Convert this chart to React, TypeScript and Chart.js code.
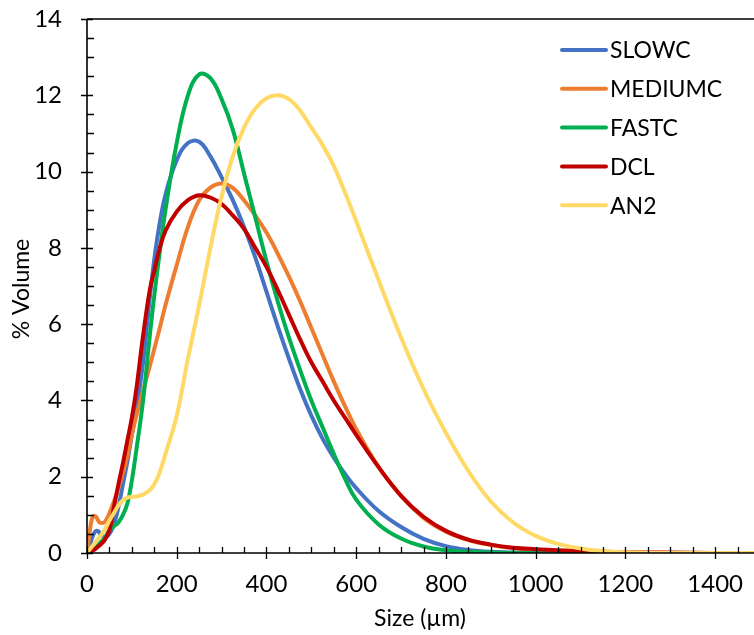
import { useEffect, useRef } from "react";
import { Chart, registerables } from "chart.js";
Chart.register(...registerables);

const sizes = [0, 5, 10, 15, 20, 25, 30, 40, 50, 60, 70, 80, 90, 100, 110, 125, 140, 150, 160, 175, 200, 225, 250, 275, 300, 325, 350, 375, 400, 425, 450, 475, 500, 525, 550, 575, 600, 650, 700, 750, 800, 850, 900, 950, 1000, 1050, 1100, 1150, 1200, 1300, 1400, 1500];

const slowc = [0, 0.15, 0.35, 0.5, 0.58, 0.57, 0.5, 0.42, 0.5, 0.75, 1.2, 1.8, 2.4, 3.1, 3.75, 5.0, 6.7, 7.7, 8.5, 9.4, 10.3, 10.75, 10.78, 10.4, 9.85, 9.25, 8.55, 7.75, 6.85, 5.95, 5.1, 4.3, 3.6, 3.0, 2.5, 2.07, 1.7, 1.1, 0.68, 0.37, 0.18, 0.08, 0.03, 0.01, 0, 0, 0, 0, 0, 0, 0, 0];
const mediumc = [0, 0.45, 0.85, 0.97, 0.95, 0.85, 0.79, 0.82, 1.05, 1.35, 1.7, 2.1, 2.55, 3.1, 3.6, 4.25, 4.9, 5.35, 5.8, 6.5, 7.55, 8.55, 9.25, 9.58, 9.69, 9.57, 9.25, 8.85, 8.4, 7.85, 7.25, 6.6, 5.9, 5.2, 4.5, 3.85, 3.25, 2.25, 1.5, 0.92, 0.56, 0.34, 0.21, 0.13, 0.08, 0.05, 0.03, 0.02, 0.01, 0, 0, 0];
const fastc = [0, 0.03, 0.07, 0.12, 0.16, 0.22, 0.28, 0.4, 0.6, 0.7, 0.8, 1.0, 1.3, 1.9, 2.7, 4.0, 5.7, 6.75, 7.7, 9.0, 10.75, 12.0, 12.55, 12.45, 11.9, 11.1, 9.95, 8.8, 7.65, 6.6, 5.65, 4.8, 4.0, 3.3, 2.6, 1.95, 1.4, 0.75, 0.38, 0.17, 0.07, 0.03, 0.01, 0, 0, 0, 0, 0, 0, 0, 0, 0];
const dcl = [0, 0.02, 0.05, 0.08, 0.12, 0.17, 0.22, 0.35, 0.6, 1.2, 1.8, 2.35, 2.95, 3.55, 4.3, 5.7, 6.9, 7.4, 7.9, 8.45, 8.95, 9.25, 9.38, 9.32, 9.15, 8.85, 8.5, 8.0, 7.5, 6.9, 6.25, 5.6, 5.0, 4.5, 4.0, 3.55, 3.1, 2.25, 1.5, 0.95, 0.58, 0.35, 0.22, 0.14, 0.1, 0.07, 0.05, 0.03, 0.02, 0.01, 0, 0];
const an2 = [0, 0.08, 0.15, 0.22, 0.3, 0.38, 0.45, 0.62, 0.85, 1.05, 1.25, 1.38, 1.45, 1.47, 1.48, 1.53, 1.65, 1.8, 2.05, 2.6, 3.6, 5.1, 6.5, 8.0, 9.35, 10.4, 11.15, 11.65, 11.92, 12.0, 11.9, 11.6, 11.15, 10.7, 10.15, 9.45, 8.7, 7.15, 5.65, 4.3, 3.15, 2.15, 1.35, 0.8, 0.45, 0.24, 0.12, 0.05, 0.02, 0, 0, 0];

const seriesNames = ["SLOWC", "MEDIUMC", "FASTC", "DCL", "AN2"];
const seriesValues = [slowc, mediumc, fastc, dcl, an2];
const seriesColors = ["#4472C4", "#ED7D31", "#00B050", "#C00000", "#FFD966"];

const xMax = 1500;
const xMajor = 200;
const xMinor = 50;
const xTickValues = [0, 200, 400, 600, 800, 1000, 1200, 1400];
const yMax = 14;
const yMajor = 2;
const yMinor = 0.5;
const yTickValues = [0, 2, 4, 6, 8, 10, 12, 14];

const xTitle = "Size (µm)";
const yTitle = "% Volume";

const FONT = "Lato, 'Open Sans', sans-serif";

export default function App() {
  const ref = useRef<HTMLCanvasElement | null>(null);

  useEffect(() => {
    if (!ref.current) return;
    const excelAxes = {
      id: "excelAxes",
      afterDraw(chart: any) {
        const ctx = chart.ctx;
        const xs = chart.scales.x;
        const ys = chart.scales.y;
        const { left, right, top, bottom } = chart.chartArea;
        ctx.save();
        ctx.strokeStyle = "#000";
        ctx.lineWidth = 1.6;
        ctx.beginPath();
        ctx.moveTo(left, top);
        ctx.lineTo(right, top);
        ctx.moveTo(left, top);
        ctx.lineTo(left, bottom);
        ctx.lineTo(right, bottom);
        ctx.stroke();
        ctx.lineWidth = 1.3;
        ctx.beginPath();
        for (let v = 0; v <= yMax + 1e-9; v += yMinor) {
          const py = Math.round(ys.getPixelForValue(v)) + 0.5;
          const isMajor = Math.abs(v / yMajor - Math.round(v / yMajor)) < 1e-6;
          if (isMajor) {
            ctx.moveTo(left - 6, py);
            ctx.lineTo(left + 6, py);
          } else {
            ctx.moveTo(left, py);
            ctx.lineTo(left + 7, py);
          }
        }
        for (let v = 0; v <= xMax + 1e-9; v += xMinor) {
          const px = Math.round(xs.getPixelForValue(v)) + 0.5;
          const isMajor = Math.abs(v / xMajor - Math.round(v / xMajor)) < 1e-6;
          if (isMajor) {
            ctx.moveTo(px, bottom - 6);
            ctx.lineTo(px, bottom + 6);
          } else {
            ctx.moveTo(px, bottom - 6);
            ctx.lineTo(px, bottom);
          }
        }
        ctx.stroke();

        // axis titles
        ctx.fillStyle = "#000";
        ctx.font = `23px ${FONT}`;
        ctx.textAlign = "center";
        ctx.textBaseline = "middle";
        ctx.fillText(xTitle, 420, 619);
        ctx.save();
        ctx.translate(22, 289);
        ctx.rotate(-Math.PI / 2);
        ctx.fillText(yTitle, 0, 0);
        ctx.restore();

        // legend
        const ly0 = 50;
        const lstep = 38.8;
        chart.data.datasets.forEach((ds: any, i: number) => {
          const y = ly0 + i * lstep;
          ctx.strokeStyle = ds.borderColor;
          ctx.lineWidth = 4;
          ctx.lineCap = "round";
          ctx.beginPath();
          ctx.moveTo(562, y);
          ctx.lineTo(606, y);
          ctx.stroke();
          ctx.fillStyle = "#000";
          ctx.textAlign = "left";
          ctx.textBaseline = "middle";
          ctx.font = `23px ${FONT}`;
          ctx.fillText(ds.label, 610, y + 1);
        });
        ctx.restore();
      },
    };

    const datasets = seriesNames.map((name, i) => ({
      label: name,
      data: sizes.map((s, j) => ({ x: s, y: seriesValues[i][j] })),
      borderColor: seriesColors[i],
      backgroundColor: seriesColors[i],
      borderWidth: 4,
      pointRadius: 0,
      showLine: true,
      tension: 0.4,
      borderCapStyle: "round" as const,
      borderJoinStyle: "round" as const,
      order: seriesNames.length - i,
    }));

    const padding = { top: 19, right: 5, left: 0, bottom: 0 };
    const chart = new Chart(ref.current, {
      type: "scatter",
      data: { datasets },
      options: {
        responsive: false,
        animation: false,
        layout: { padding },
        plugins: {
          legend: { display: false },
          tooltip: { enabled: false },
        },
        scales: {
          x: {
            type: "linear",
            min: 0,
            max: xMax,
            afterFit: (s: any) => {
              s.height = 82;
            },
            afterBuildTicks: (s: any) => {
              s.ticks = xTickValues.map((v) => ({ value: v }));
            },
            grid: { display: false, drawTicks: true, tickLength: 17 },
            border: { display: false },
            ticks: {
              padding: 0,
              color: "#000",
              font: { family: FONT, size: 24 },
              maxRotation: 0,
              autoSkip: false,
              callback: (v: any) => String(v),
            },
          },
          y: {
            min: 0,
            max: yMax,
            afterFit: (s: any) => {
              s.width = 87;
            },
            afterBuildTicks: (s: any) => {
              s.ticks = yTickValues.map((v) => ({ value: v }));
            },
            grid: { display: false, drawTicks: true, tickLength: 25 },
            border: { display: false },
            ticks: {
              padding: 0,
              color: "#000",
              font: { family: FONT, size: 24 },
              callback: (v: any) => String(v),
            },
          },
        },
      },
      plugins: [excelAxes],
    });

    // nudge layout padding so the plot area lands on the reference frame
    for (let k = 0; k < 3; k++) {
      const dTop = 19 - chart.chartArea.top;
      const dRight = 760 - chart.chartArea.right;
      if (Math.abs(dTop) < 0.5 && Math.abs(dRight) < 0.5) break;
      padding.top = Math.max(0, padding.top + dTop);
      padding.right = Math.max(0, padding.right - dRight);
      (chart.options.layout as any).padding = { ...padding };
      chart.update();
    }
    return () => chart.destroy();
  }, []);

  return (
    <div
      style={{
        position: "fixed",
        left: 0,
        top: 0,
        width: 754,
        height: 635,
        overflow: "hidden",
        background: "#fff",
      }}
    >
      <canvas ref={ref} width={770} height={635} style={{ display: "block" }} />
    </div>
  );
}
